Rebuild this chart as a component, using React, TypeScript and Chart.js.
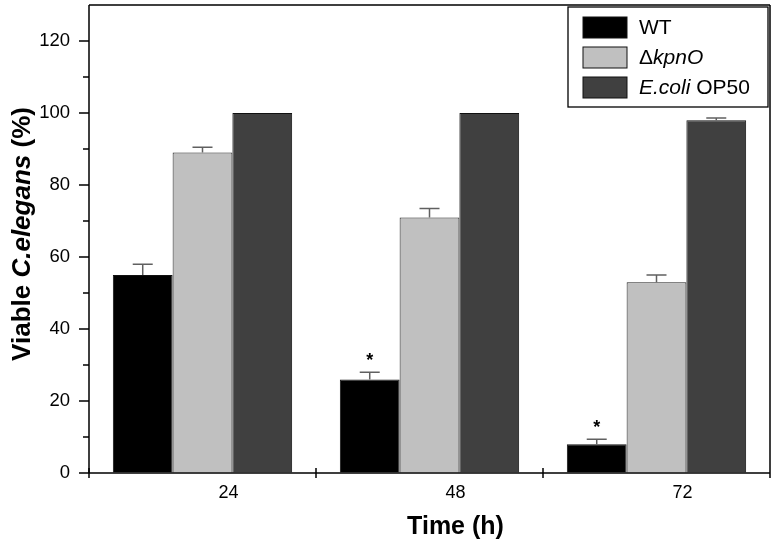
import { useEffect, useRef } from 'react';
import { Chart, registerables } from 'chart.js';

Chart.register(...registerables);

const categories = ['24', '48', '72'];
const wtValues = [55, 26, 8];
const wtErrors = [3, 2, 1.4];
const kpnoValues = [89, 71, 53];
const kpnoErrors = [1.5, 2.5, 2];
const op50Values = [100, 100, 98];
const op50Errors = [0, 0, 0.6];
const wtSignificant = [false, true, true];
const yMajorTicks = [0, 20, 40, 60, 80, 100, 120];
const yMinorTicks = [10, 30, 50, 70, 90, 110];

const FONT = "'Liberation Sans', Arial, Helvetica, sans-serif";
const COLORS = ['#000000', '#c0c0c0', '#404040'];

type Seg = { t: string; italic?: boolean };
const legendItems: { color: string; segs: Seg[] }[] = [
  { color: COLORS[0], segs: [{ t: 'WT' }] },
  { color: COLORS[1], segs: [{ t: '\u0394' }, { t: 'kpnO', italic: true }] },
  { color: COLORS[2], segs: [{ t: 'E.coli', italic: true }, { t: ' OP50' }] },
];

function drawSegs(ctx: CanvasRenderingContext2D, segs: Seg[], x: number, y: number, size: number, bold: boolean, align: 'left' | 'center') {
  const w = (s: Seg) => {
    ctx.font = `${s.italic ? 'italic ' : ''}${bold ? 'bold ' : ''}${size}px ${FONT}`;
    return ctx.measureText(s.t).width;
  };
  let total = 0;
  segs.forEach((s) => (total += w(s)));
  let cx = align === 'center' ? x - total / 2 : x;
  ctx.textAlign = 'left';
  segs.forEach((s) => {
    ctx.font = `${s.italic ? 'italic ' : ''}${bold ? 'bold ' : ''}${size}px ${FONT}`;
    ctx.fillText(s.t, cx, y);
    cx += ctx.measureText(s.t).width;
  });
}

const decorPlugin = {
  id: 'decor',
  afterDatasetsDraw(chart: any) {
    const ctx: CanvasRenderingContext2D = chart.ctx;
    const ys = chart.scales.y;
    const errs = [wtErrors, kpnoErrors, op50Errors];
    ctx.save();
    chart.data.datasets.forEach((ds: any, di: number) => {
      const meta = chart.getDatasetMeta(di);
      meta.data.forEach((bar: any, i: number) => {
        const e = errs[di][i];
        const v = ds.data[i];
        const yBar = ys.getPixelForValue(v);
        const yTop = ys.getPixelForValue(v + e);
        if (e > 0) {
          ctx.strokeStyle = '#606060';
          ctx.lineWidth = 1.5;
          ctx.beginPath();
          ctx.moveTo(bar.x, yBar);
          ctx.lineTo(bar.x, yTop);
          ctx.moveTo(bar.x - 10, yTop);
          ctx.lineTo(bar.x + 10, yTop);
          ctx.stroke();
        }
        if (di === 0 && wtSignificant[i]) {
          ctx.fillStyle = '#000';
          ctx.font = `bold 18px ${FONT}`;
          ctx.textAlign = 'center';
          ctx.textBaseline = 'alphabetic';
          ctx.fillText('*', bar.x, yTop - 6);
        }
      });
    });
    ctx.restore();
  },
  afterDraw(chart: any) {
    const ctx: CanvasRenderingContext2D = chart.ctx;
    const { left, right, top, bottom } = chart.chartArea;
    const ys = chart.scales.y;
    const xs = chart.scales.x;
    ctx.save();
    ctx.strokeStyle = '#000';
    ctx.lineWidth = 1.5;
    // frame
    ctx.beginPath();
    ctx.moveTo(left, top);
    ctx.lineTo(right, top);
    ctx.moveTo(right, top);
    ctx.lineTo(right, bottom + 5);
    ctx.moveTo(left, top);
    ctx.lineTo(left, bottom);
    ctx.moveTo(left, bottom);
    ctx.lineTo(right, bottom);
    ctx.stroke();
    // y ticks
    ctx.beginPath();
    yMajorTicks.forEach((v) => {
      const py = ys.getPixelForValue(v);
      ctx.moveTo(left - 10, py);
      ctx.lineTo(left, py);
    });
    yMinorTicks.forEach((v) => {
      const py = ys.getPixelForValue(v);
      ctx.moveTo(left - 6, py);
      ctx.lineTo(left, py);
    });
    // x boundary ticks
    const bounds = [left];
    for (let i = 0; i < categories.length - 1; i++) {
      bounds.push((xs.getPixelForValue(i) + xs.getPixelForValue(i + 1)) / 2);
    }
    bounds.forEach((bx) => {
      ctx.moveTo(bx, bottom - 5);
      ctx.lineTo(bx, bottom + 5);
    });
    ctx.stroke();

    // titles
    ctx.fillStyle = '#000';
    ctx.textBaseline = 'alphabetic';
    drawSegs(ctx, [{ t: 'Time (h)' }], (left + right) / 2 + 26, 534, 25, true, 'center');
    ctx.save();
    ctx.translate(30, 234);
    ctx.rotate(-Math.PI / 2);
    drawSegs(ctx, [{ t: 'Viable ' }, { t: 'C.elegans', italic: true }, { t: ' (%)' }], 0, 0, 26, true, 'center');
    ctx.restore();

    // legend
    const lx = right - 202;
    const ly = top + 2;
    const lw = 200;
    const lh = 100;
    ctx.fillStyle = '#fff';
    ctx.fillRect(lx, ly, lw, lh);
    ctx.lineWidth = 1.3;
    ctx.strokeStyle = '#000';
    ctx.strokeRect(lx, ly, lw, lh);
    legendItems.forEach((it, i) => {
      const cy = ly + 20.5 + i * 30;
      ctx.fillStyle = it.color;
      ctx.fillRect(lx + 15, cy - 10.5, 44, 21);
      ctx.strokeStyle = '#111';
      ctx.lineWidth = 1;
      ctx.strokeRect(lx + 15, cy - 10.5, 44, 21);
      ctx.fillStyle = '#000';
      ctx.textBaseline = 'middle';
      drawSegs(ctx, it.segs, lx + 71, cy + 1, 21, false, 'left');
    });
    ctx.restore();
  },
};

export default function App() {
  const ref = useRef<HTMLCanvasElement | null>(null);
  useEffect(() => {
    document.body.style.margin = '0';
    if (!ref.current) return;
    const chart = new Chart(ref.current, {
      type: 'bar',
      data: {
        labels: categories,
        datasets: [
          { label: 'WT', data: wtValues, backgroundColor: COLORS[0], borderColor: '#111', borderWidth: 1 },
          { label: '\u0394kpnO', data: kpnoValues, backgroundColor: COLORS[1], borderColor: '#222', borderWidth: 1 },
          { label: 'E.coli OP50', data: op50Values, backgroundColor: COLORS[2], borderColor: '#111', borderWidth: 1 },
        ],
      },
      options: {
        responsive: true,
        maintainAspectRatio: false,
        animation: false,
        layout: { padding: { top: 5, right: 6, left: 0, bottom: 0 } },
        datasets: { bar: { categoryPercentage: 0.79, barPercentage: 1.0 } },
        plugins: { legend: { display: false }, tooltip: { enabled: false }, title: { display: false } },
        scales: {
          x: {
            type: 'category',
            grid: { display: false, drawTicks: false },
            border: { display: false },
            ticks: { color: '#000', font: { family: FONT, size: 18 }, padding: 9, labelOffset: 26, maxRotation: 0 },
            afterFit: (s: any) => { s.height = 72; s.paddingLeft = 0; s.paddingRight = 0; },
          },
          y: {
            min: 0,
            max: 130,
            grid: { display: true, drawOnChartArea: false, drawTicks: true, tickLength: 10, tickColor: 'rgba(0,0,0,0)' },
            border: { display: false },
            ticks: {
              stepSize: 20,
              color: '#000',
              font: { family: FONT, size: 18.5 },
              padding: 9,
              callback: (v: any) => (Number(v) % 20 === 0 ? String(v) : ''),
            },
            afterFit: (s: any) => { s.width = 89; s.paddingTop = 0; s.paddingBottom = 0; },
          },
        },
      },
      plugins: [decorPlugin],
    });
    return () => chart.destroy();
  }, []);
  return (
    <div style={{ width: 776, height: 545, position: 'relative' }}>
      <canvas ref={ref} />
    </div>
  );
}
